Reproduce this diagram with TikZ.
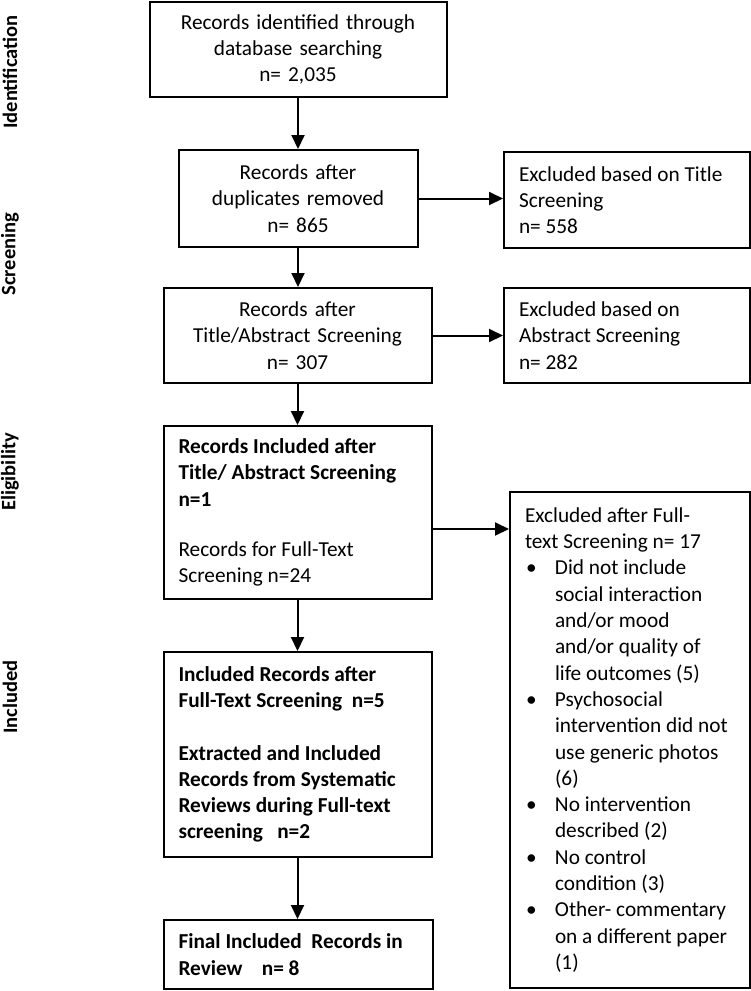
\documentclass[tikz,border=0pt]{standalone}
\usepackage{fontspec}
\setmainfont{Carlito}
\usetikzlibrary{arrows.meta}
\newcommand{\bitem}[1]{\hspace*{1pt}\makebox[29pt][l]{•}#1}
\newcommand{\bcont}[1]{\hspace*{30pt}#1}
\begin{document}
\begin{tikzpicture}[x=1pt,y=-1pt,
  box/.style={draw, line width=2pt, inner xsep=15pt, inner ysep=0pt,
    font=\fontsize{21.3}{26.3}\selectfont},
  cbox/.style={box, align=center},
  lbox/.style={box, align=flush left},
  arr/.style={line width=2pt, -{Triangle[length=14pt,width=13pt]}},
  side/.style={rotate=90, font=\fontsize{20.5}{24}\selectfont\bfseries}]
\useasboundingbox (0,0) rectangle (751,991);

\node[side] (l1) at (10,72) {Identification};
\node[side] (l2) at (10,254) {Screening};
\node[side] (l3) at (10,472) {Eligibility};
\node[side] (l4) at (10,697) {Included};

\node[cbox, text width=267pt, minimum height=95pt] (b1) at (298,49.5)
  {Records identified through\\database searching\\n= 2,035};
\node[cbox, text width=209pt, minimum height=97pt] (b2) at (298,198.5)
  {Records after\\duplicates removed\\n= 865};
\node[cbox, text width=238pt, minimum height=95pt] (b3) at (297.5,335.5)
  {Records after\\Title/Abstract Screening\\n= 307};
\node[lbox, text width=238pt, minimum height=173pt] (b4) at (297.5,512.5)
  {\textbf{Records Included after}\\\textbf{Title/ Abstract Screening}\\\textbf{n=1}\\[24pt]Records for Full-Text\\Screening n=24};
\node[lbox, text width=238pt, minimum height=205pt, font=\fontsize{21.3}{26.3}\selectfont\bfseries] (b5) at (297.5,754.5)
  {Included Records after\\Full-Text Screening\ \ n=5\\[26pt]Extracted and Included\\Records from Systematic\\Reviews during Full-text\\screening\ \ \ n=2};
\node[lbox, text width=239pt, minimum height=69pt, font=\fontsize{21.3}{26.3}\selectfont\bfseries] (b6) at (298,954.5)
  {Final Included\ \ Records in\\Review\ \ \ \ n= 8};

\node[lbox, text width=216pt, minimum height=96pt] (e1) at (627,200)
  {Excluded based on Title\\Screening\\n= 558};
\node[lbox, text width=216pt, minimum height=95pt] (e2) at (627,335.5)
  {Excluded based on\\Abstract Screening\\n= 282};
\node[draw, line width=2pt, minimum width=240pt, minimum height=496pt, inner sep=0pt] (e3) at (630,740) {};
\node[lbox, draw=none, text width=225pt, minimum height=496pt] (e3text) at (637.5,740)
  {Excluded after Full-\\text Screening n= 17\\
   \bitem{Did not include}\\\bcont{social interaction}\\\bcont{and/or mood}\\\bcont{and/or quality of}\\\bcont{life outcomes (5)}\\
   \bitem{Psychosocial}\\\bcont{intervention did not}\\\bcont{use generic photos}\\\bcont{(6)}\\
   \bitem{No intervention}\\\bcont{described (2)}\\
   \bitem{No control}\\\bcont{condition (3)}\\
   \bitem{Other- commentary}\\\bcont{on a different paper}\\\bcont{(1)}};

\draw[arr] (b1.south) -- (b1.south |- b2.north);
\draw[arr] (b2.south) -- (b2.south |- b3.north);
\draw[arr] (b3.south) -- (b3.south |- b4.north);
\draw[arr] (b4.south) -- (b4.south |- b5.north);
\draw[arr] (b5.south) -- (b5.south |- b6.north);
\draw[arr] (b2.east) -- (b2.east -| e1.west);
\draw[arr] (b3.east) -- (b3.east -| e2.west);
\draw[arr] ([yshift=-16.5pt]b4.east) coordinate (a4) -- (a4 -| e3.west);
\end{tikzpicture}
\end{document}
